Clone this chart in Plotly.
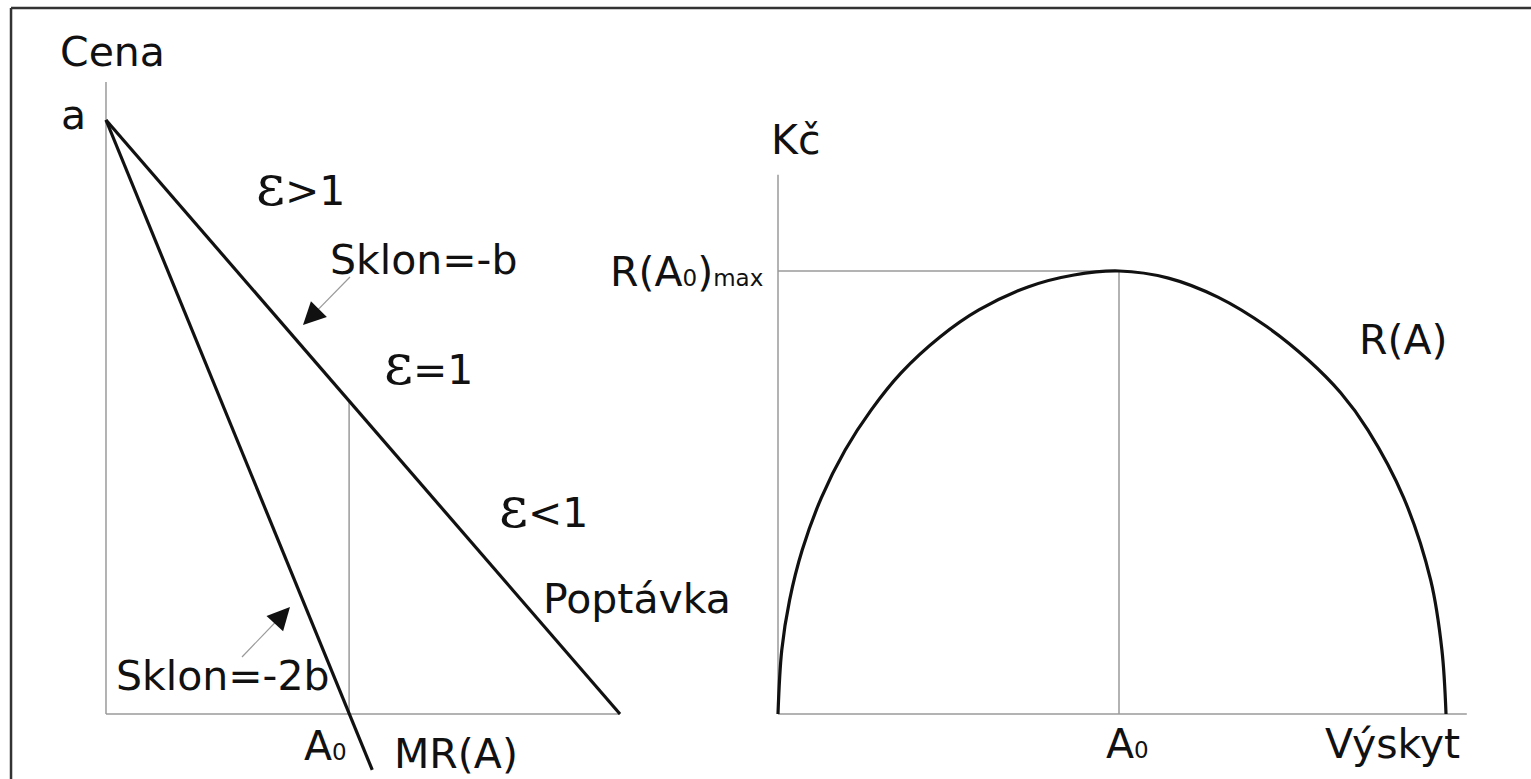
import plotly.graph_objects as go

# ---------------- data ----------------
# Left panel: demand ("Poptávka") and marginal revenue MR(A); units Q (quantity), P (price)
demand_q = [0.0, 10.0]
demand_p = [10.0, 0.0]
mr_q = [0.0, 5.18]
mr_p = [10.0, -0.94]
a0_left = 4.73            # quantity where MR = 0
a0_left_price = 5.27      # demand price at A0
left_axis_q_max = 10.0
left_axis_p_max = 10.64

# Right panel: total revenue R(A)
rev_a = [0.0, 0.11, 0.34, 0.71, 1.27, 1.97, 2.73, 3.61, 4.75, 5.89, 7.33, 8.68, 10.0,
         11.45, 12.9, 14.34, 15.55, 16.5, 17.3, 18.35, 19.14, 19.47, 19.59]
rev_r = [0.0, 1.44, 2.57, 3.70, 4.88, 5.96, 6.86, 7.70, 8.51, 9.12, 9.64, 9.91, 10.0,
         9.84, 9.41, 8.74, 7.99, 7.25, 6.41, 4.88, 3.02, 1.44, 0.0]
a0_right = 10.0
r_max = 10.0
right_axis_a_max = 20.2
right_axis_r_max = 12.17

# ---------------- styles ----------------
BLACK = "#111111"
GRAY = "#9a9a9a"
FONT = "DejaVu Sans, Liberation Sans, Arial, sans-serif"
FS = 41
EPS = '<span style="font-family:\'DejaVu Serif\', serif; font-size:56px">ε</span>'
SUB0 = '<span style="font-size:23px">0</span>'

fig = go.Figure()

def line(x, y, color, width, xa="x", ya="y", shape="linear"):
    fig.add_trace(go.Scatter(x=x, y=y, mode="lines", xaxis=xa, yaxis=ya,
                             line=dict(color=color, width=width, shape=shape),
                             hoverinfo="skip", showlegend=False))

# left panel axes and guide
line([0, 0], [0, left_axis_p_max], GRAY, 1.5)
line([0, left_axis_q_max], [0, 0], GRAY, 1.5)
line([a0_left, a0_left], [0, a0_left_price], GRAY, 1.5)
# demand and MR
line(demand_q, demand_p, BLACK, 3.2)
line(mr_q, mr_p, BLACK, 3.2)

# right panel axes and guides
line([0, 0], [0, right_axis_r_max], GRAY, 1.5, "x2", "y2")
line([0, right_axis_a_max], [0, 0], GRAY, 1.5, "x2", "y2")
line([0, a0_right], [r_max, r_max], GRAY, 1.5, "x2", "y2")
line([a0_right, a0_right], [0, r_max], GRAY, 1.5, "x2", "y2")
line(rev_a, rev_r, BLACK, 3.2, "x2", "y2", shape="spline")

ann = []

def text(t, x, y, xa="x", ya="y", xanchor="center", size=FS):
    ann.append(dict(text=t, x=x, y=y, xref=xa, yref=ya, showarrow=False,
                    xanchor=xanchor, yanchor="middle",
                    font=dict(family=FONT, size=size, color=BLACK)))

# left panel labels
text("Cena", 0.12, 11.145)
text("a", -0.64, 10.08)
text(EPS + "&gt;1", 3.79, 8.89)
text("Sklon=-b", 6.17, 7.64)
text(EPS + "=1", 6.27, 5.89)
text(EPS + "&lt;1", 8.52, 3.47)
text("Poptávka", 10.33, 1.94)
text("Sklon=-2b", 2.28, 0.64)
text("A" + SUB0, 4.28, -0.54)
text("MR(A)", 6.81, -0.67)

# right panel labels
text("Kč", 0.5, 12.96, "x2", "y2")
text("R(A" + SUB0 + ")" + '<span style="font-size:23px">max</span>', -0.38, 9.98, "x2", "y2", xanchor="right")
text("R(A)", 18.33, 8.44, "x2", "y2")
text("A" + SUB0, 10.26, -0.68, "x2", "y2")
text("Výskyt", 18.01, -0.68, "x2", "y2")

# arrows: gray shaft + black head
arrows = [
    dict(tail=(4.747, 7.357), base=(4.078, 6.766), tip=(3.833, 6.549), off=(11, -11)),
    dict(tail=(2.646, 0.960), base=(3.337, 1.582), tip=(3.580, 1.801), off=(-11, 12)),
]
shapes = []
for a in arrows:
    shapes.append(dict(type="line", xref="x", yref="y",
                       x0=a["tail"][0], y0=a["tail"][1], x1=a["base"][0], y1=a["base"][1],
                       line=dict(color=GRAY, width=1.2)))
    ann.append(dict(text="", x=a["tip"][0], y=a["tip"][1], xref="x", yref="y",
                    ax=a["off"][0], ay=a["off"][1], axref="pixel", ayref="pixel",
                    showarrow=True, arrowhead=2, arrowsize=3, arrowwidth=1.5,
                    arrowcolor=BLACK, standoff=0))

# picture frame (top and left edges)
shapes.append(dict(type="line", xref="paper", yref="paper", x0=0.0072, x1=1.0,
                   y0=0.9897, y1=0.9897, line=dict(color="#333333", width=2.5)))
shapes.append(dict(type="line", xref="paper", yref="paper", x0=0.0072, x1=0.0072,
                   y0=0.0, y1=0.9897, line=dict(color="#333333", width=2.5)))

hidden = dict(visible=False, showgrid=False, zeroline=False, fixedrange=True)
fig.update_layout(
    width=1531, height=779,
    margin=dict(l=0, r=0, t=0, b=0),
    paper_bgcolor="white", plot_bgcolor="rgba(0,0,0,0)",
    showlegend=False,
    xaxis=dict(hidden, range=[-2.062, 27.724], domain=[0, 1]),
    yaxis=dict(hidden, range=[-1.094, 12.02], domain=[0, 1]),
    xaxis2=dict(hidden, range=[-22.815, 22.082], domain=[0, 1], anchor="y2"),
    yaxis2=dict(hidden, range=[-1.467, 16.117], domain=[0, 1], anchor="x2"),
    annotations=ann,
    shapes=shapes,
)

fig.write_html("out.html", config={"displayModeBar": False},
               post_script="document.body.style.margin='0px';document.body.style.overflow='hidden';")
